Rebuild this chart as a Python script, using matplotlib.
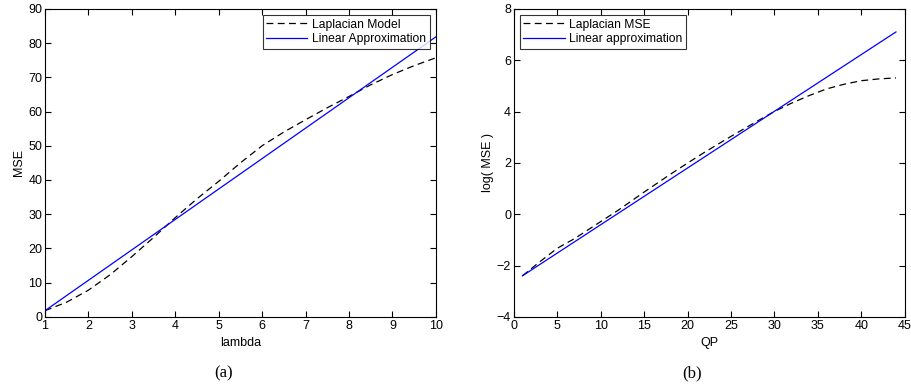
import numpy as np
import matplotlib.pyplot as plt

plt.rcParams['font.family'] = ['Liberation Sans', 'DejaVu Sans']

# panel (a): MSE vs lambda
lam = [1, 1.5, 2, 2.5, 3, 3.5, 4, 4.5, 5, 5.5, 6, 6.5, 7, 7.5, 8, 8.5, 9, 9.5, 10]
mse_lap = [1.8, 4.3, 7.8, 12.3, 17.6, 23.2, 29.0, 34.5, 39.6, 45.0, 50.0, 54.0,
           57.6, 61.1, 64.4, 67.8, 70.8, 73.4, 75.7]
lam_lin = [1, 10]
mse_lin = [1.8, 81.8]

# panel (b): log(MSE) vs QP
qp = [1, 3, 5, 7, 10, 12, 15, 18, 20, 22, 25, 28, 30, 32, 34, 36, 38, 40, 42, 44]
logmse_lap = [-2.4, -1.85, -1.33, -0.95, -0.29, 0.15, 0.86, 1.55, 1.99, 2.42, 3.03,
              3.62, 4.0, 4.33, 4.62, 4.88, 5.06, 5.2, 5.27, 5.31]
qp_lin = [1, 44]
logmse_lin = [-2.4, 7.1]

fig = plt.figure(figsize=(9.11, 3.85), dpi=100)
ax1 = fig.add_axes([0.0494, 0.177, 0.429, 0.8])
ax2 = fig.add_axes([0.564, 0.177, 0.429, 0.8])

ax1.plot(lam, mse_lap, 'k--', lw=0.9, dashes=(5.5, 3.5), label='Laplacian Model')
ax1.plot(lam_lin, mse_lin, color='#0000ff', lw=0.9, label='Linear Approximation')
ax1.set_xlim(1, 10)
ax1.set_ylim(0, 90)
ax1.set_xticks(range(1, 11))
ax1.set_yticks(range(0, 91, 10))
ax1.set_xlabel('lambda', fontsize=9, labelpad=4)
ax1.set_ylabel('MSE', fontsize=9, labelpad=2)

ax2.plot(qp, logmse_lap, 'k--', lw=0.9, dashes=(5.5, 3.5), label='Laplacian MSE')
ax2.plot(qp_lin, logmse_lin, color='#0000ff', lw=0.9, label='Linear approximation')
ax2.set_xlim(0, 45)
ax2.set_ylim(-4, 8)
ax2.set_xticks(range(0, 46, 5))
ax2.set_yticks(range(-4, 9, 2))
ax2.set_xlabel('QP', fontsize=9, labelpad=4)
ax2.set_ylabel('log( MSE )', fontsize=9, labelpad=2)

for ax, loc in [(ax1, 'upper right'), (ax2, 'upper left')]:
    ax.tick_params(direction='in', top=True, right=True, labelsize=9, length=4, pad=2)
    for s in ax.spines.values():
        s.set_linewidth(0.8)
    leg = ax.legend(loc=loc, fontsize=8.7, frameon=True, fancybox=False,
                    borderaxespad=0.5, handlelength=3.4, borderpad=0.3,
                    labelspacing=0.2, handletextpad=0.4)
    leg.get_frame().set_edgecolor('black')
    leg.get_frame().set_linewidth(0.8)

fig.text(0.245, 0.031, '(a)', ha='center', va='center', fontsize=12,
         family='Liberation Serif')
fig.text(0.76, 0.031, '(b)', ha='center', va='center', fontsize=12,
         family='Liberation Serif')

fig.savefig('out.png', dpi=100)
